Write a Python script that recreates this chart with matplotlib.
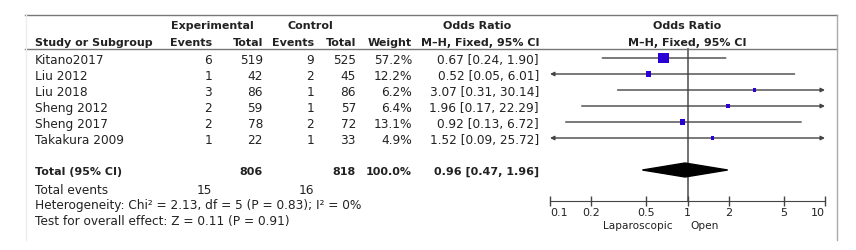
import numpy as np
import matplotlib.pyplot as plt

# Forest plot data
studies = ["Kitano2017", "Liu 2012", "Liu 2018", "Sheng 2012", "Sheng 2017", "Takakura 2009"]
exp_events = [6, 1, 3, 2, 2, 1]
exp_total = [519, 42, 86, 59, 78, 22]
ctrl_events = [9, 2, 1, 1, 2, 1]
ctrl_total = [525, 45, 86, 57, 72, 33]
weights = [57.2, 12.2, 6.2, 6.4, 13.1, 4.9]
odds = [0.67, 0.52, 3.07, 1.96, 0.92, 1.52]
ci_low = [0.24, 0.05, 0.31, 0.17, 0.13, 0.09]
ci_high = [1.90, 6.01, 30.14, 22.29, 6.72, 25.72]

total_or, total_low, total_high = 0.96, 0.47, 1.96
total_exp, total_ctrl = 806, 818
events_exp, events_ctrl = 15, 16
ticks = [0.1, 0.2, 0.5, 1, 2, 5, 10]

W, H = 856, 250
fig = plt.figure(figsize=(W / 100, H / 100), dpi=100)
ax = fig.add_axes([0, 0, 1, 1])
ax.set_xlim(0, W)
ax.set_ylim(H, 0)
ax.axis("off")

fs_b = 8     # bold headings
fs = 8.7     # regular text
txt = "#222222"

# frame lines
ax.plot([25, 837], [14.5, 14.5], color="#777777", lw=1)
ax.plot([25, 837], [49, 49], color="#777777", lw=1)
ax.plot([837, 837], [14.5, 240], color="#aaaaaa", lw=1)
ax.plot([26, 26], [14.5, 240], color="#eeeeee", lw=1)

# column x positions (right edges)
x_name, x_ee, x_et, x_ce, x_ct, x_w, x_or = 35, 212, 263, 314, 356, 412, 539

# headers
hb = dict(fontsize=fs_b, fontweight="bold", color=txt, va="baseline")
ax.text(212, 29, "Experimental", ha="center", **hb)
ax.text(310, 29, "Control", ha="center", **hb)
ax.text(477, 29, "Odds Ratio", ha="center", **hb)
ax.text(687, 29, "Odds Ratio", ha="center", **hb)
ax.text(x_name, 45.5, "Study or Subgroup", ha="left", **hb)
ax.text(x_ee, 45.5, "Events", ha="right", **hb)
ax.text(x_et, 45.5, "Total", ha="right", **hb)
ax.text(x_ce, 45.5, "Events", ha="right", **hb)
ax.text(x_ct, 45.5, "Total", ha="right", **hb)
ax.text(x_w, 45.5, "Weight", ha="right", **hb)
ax.text(x_or + 1, 45.5, "M\u2013H, Fixed, 95% CI", ha="right", **hb)
ax.text(687, 45.5, "M\u2013H, Fixed, 95% CI", ha="center", **hb)

# study rows
rb = dict(fontsize=fs, color=txt, va="baseline")
row_base = [64.3 + 16 * i for i in range(len(studies))]
for i, yb in enumerate(row_base):
    ax.text(x_name, yb, studies[i], ha="left", **rb)
    ax.text(x_ee, yb, str(exp_events[i]), ha="right", **rb)
    ax.text(x_et, yb, str(exp_total[i]), ha="right", **rb)
    ax.text(x_ce, yb, str(ctrl_events[i]), ha="right", **rb)
    ax.text(x_ct, yb, str(ctrl_total[i]), ha="right", **rb)
    ax.text(x_w, yb, f"{weights[i]:.1f}%", ha="right", **rb)
    ax.text(x_or, yb, f"{odds[i]:.2f} [{ci_low[i]:.2f}, {ci_high[i]:.2f}]", ha="right", **rb)

# total rows
yt = 175
ax.text(x_name, yt, "Total (95% CI)", ha="left", **hb)
ax.text(x_et, yt, str(total_exp), ha="right", **hb)
ax.text(x_ct, yt, str(total_ctrl), ha="right", **hb)
ax.text(x_w, yt, "100.0%", ha="right", **hb)
ax.text(x_or, yt, f"{total_or:.2f} [{total_low:.2f}, {total_high:.2f}]", ha="right", **hb)

ax.text(x_name, 194, "Total events", ha="left", **rb)
ax.text(x_ee, 194, str(events_exp), ha="right", **rb)
ax.text(x_ce, 194, str(events_ctrl), ha="right", **rb)
ax.text(x_name, 209.5, "Heterogeneity: Chi\u00b2 = 2.13, df = 5 (P = 0.83); I\u00b2 = 0%", ha="left", **rb)
ax.text(x_name, 224.5, "Test for overall effect: Z = 0.11 (P = 0.91)", ha="left", **rb)

# ---- forest panel on a log axis ----
fx0, fx1 = 550, 825
fa = fig.add_axes([fx0 / W, 0, (fx1 - fx0) / W, 1])
fa.patch.set_alpha(0)
fa.set_xscale("log")
fa.set_xlim(0.1, 10)
fa.set_ylim(H, 0)
for s in ["top", "left", "right"]:
    fa.spines[s].set_visible(False)
fa.spines["bottom"].set_position(("data", 201))
fa.spines["bottom"].set_color("#444444")
fa.set_yticks([])
fa.set_xticks(ticks)
fa.set_xticklabels(["0.1", "0.2", "0.5", "1", "2", "5", "10"])
fa.minorticks_off()
fa.tick_params(axis="x", direction="inout", length=6.5, width=1, color="#444444",
               labelsize=8, labelcolor=txt, pad=1.5)
labels = fa.get_xticklabels()
labels[0].set_ha("left")
labels[-1].set_ha("right")

# null line
fa.plot([1, 1], [49, 201], color="#666666", lw=1.3, zorder=1)

for i, yb in enumerate(row_base):
    yc = yb - 6.3
    lo = max(ci_low[i], 0.1)
    hi = min(ci_high[i], 10)
    left_cut = ci_low[i] < 0.1
    right_cut = ci_high[i] > 10
    if left_cut and right_cut:
        style = "<|-|>"
    elif left_cut:
        style = "<|-"
    elif right_cut:
        style = "-|>"
    else:
        style = "-"
    fa.annotate("", xy=(hi, yc), xytext=(lo, yc),
                arrowprops=dict(arrowstyle=style, color="#444444", lw=1,
                                shrinkA=0, shrinkB=0, mutation_scale=6),
                zorder=2)
    side = 1.45 * np.sqrt(weights[i]) * 0.72
    fa.scatter([odds[i]], [yc], marker="s", s=side ** 2, color="#2a00d4",
               edgecolors="none", zorder=3)

# pooled diamond
yd = 170
fa.fill([total_low, total_or, total_high, total_or], [yd, yd - 7, yd, yd + 7],
        color="black", zorder=3)

fa.text(0.785, 226, "Laparoscopic", ha="right", va="center", fontsize=7.6, color=txt)
fa.text(1.05, 226, "Open", ha="left", va="center", fontsize=7.6, color=txt)

fig.savefig("out.png", dpi=100)
